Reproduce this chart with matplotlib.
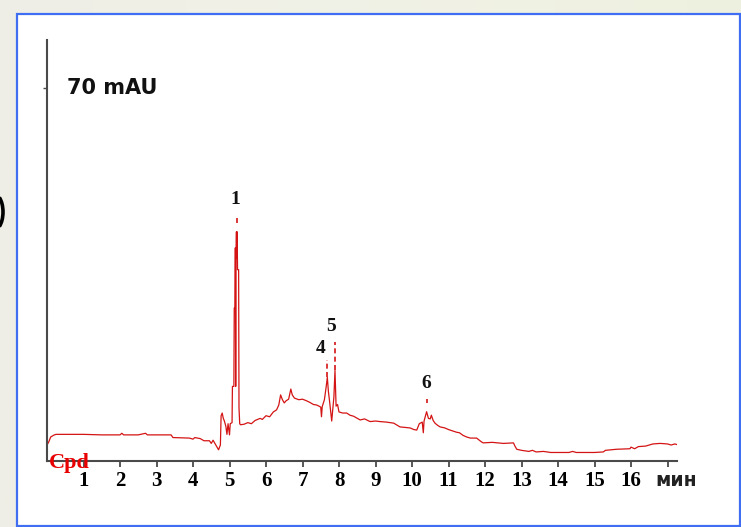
import matplotlib
matplotlib.use("Agg")
import matplotlib.pyplot as plt
import numpy as np
from matplotlib.patches import Rectangle, Arc
from matplotlib.colors import LinearSegmentedColormap

# ---- data (time in min, absorbance in mAU) ----
time_min = [0.00, 0.05, 0.10, 0.20, 0.25, 1.00, 1.50, 2.00, 2.05, 2.10, 2.50, 2.70, 2.75,
            3.40, 3.45, 3.90, 4.00, 4.05, 4.20, 4.30, 4.45, 4.50, 4.55, 4.60, 4.70, 4.75,
            4.77, 4.80, 4.83, 4.86, 4.90, 4.93, 4.96, 5.00, 5.02, 5.07, 5.08, 5.12, 5.13,
            5.15, 5.16, 5.17, 5.18, 5.19, 5.20, 5.21, 5.22, 5.25, 5.26, 5.28, 5.30, 5.40,
            5.50, 5.60, 5.70, 5.84, 5.90, 6.00, 6.10, 6.20, 6.29, 6.35, 6.40, 6.45, 6.50,
            6.55, 6.62, 6.68, 6.72, 6.78, 6.90, 7.00, 7.11, 7.20, 7.30, 7.39, 7.45, 7.50,
            7.52, 7.54, 7.60, 7.65, 7.68, 7.71, 7.74, 7.77, 7.80, 7.83, 7.86, 7.89, 7.92,
            7.96, 8.00, 8.10, 8.21, 8.30, 8.40, 8.50, 8.58, 8.70, 8.85, 9.00, 9.12, 9.30,
            9.50, 9.60, 9.67, 9.80, 9.95, 10.05, 10.13, 10.20, 10.28, 10.31, 10.33, 10.40,
            10.45, 10.50, 10.53, 10.58, 10.63, 10.70, 10.77, 10.90, 11.00, 11.22, 11.30,
            11.40, 11.50, 11.60, 11.77, 11.90, 11.95, 12.20, 12.50, 12.78, 12.82, 12.87,
            13.00, 13.20, 13.30, 13.40, 13.60, 13.80, 14.30, 14.40, 14.50, 15.00, 15.24,
            15.30, 15.60, 15.97, 16.00, 16.10, 16.20, 16.40, 16.60, 16.80, 17.00, 17.10,
            17.20, 17.25]
signal_mau = [3.0, 3.6, 4.5, 4.9, 5.0, 5.0, 4.9, 4.9, 5.2, 4.9, 4.9, 5.2, 4.9,
              4.9, 4.4, 4.3, 4.1, 4.4, 4.2, 3.8, 3.8, 3.3, 3.9, 3.3, 2.1, 3.0,
              8.5, 9.0, 8.0, 7.5, 6.5, 5.0, 7.0, 4.9, 7.0, 7.2, 14.0, 14.0, 28.7,
              28.7, 40.0, 14.0, 40.0, 43.0, 38.0, 43.0, 35.9, 35.9, 10.0, 7.0, 6.8, 6.9,
              7.2, 7.0, 7.6, 8.0, 7.8, 8.5, 8.3, 9.2, 9.6, 10.5, 12.4, 11.5, 10.9,
              11.3, 11.6, 13.5, 12.4, 11.8, 11.5, 11.6, 11.3, 11.0, 10.6, 10.5, 10.3, 10.1,
              8.3, 10.2, 11.5, 14.0, 15.7, 13.0, 11.3, 9.4, 7.5, 9.8, 12.0, 17.0, 10.3,
              10.6, 9.2, 9.0, 9.0, 8.6, 8.4, 8.0, 7.7, 7.9, 7.4, 7.5, 7.4, 7.3,
              7.1, 6.7, 6.4, 6.3, 6.2, 5.9, 5.8, 7.0, 7.3, 5.3, 7.5, 9.25,
              8.0, 7.9, 8.6, 7.6, 7.1, 6.7, 6.4, 6.2, 5.9, 5.4, 5.3,
              4.8, 4.5, 4.3, 4.3, 3.6, 3.4, 3.5, 3.3, 3.4, 2.8, 2.2,
              2.0, 1.8, 2.0, 1.7, 1.8, 1.6, 1.6, 1.8, 1.6, 1.6, 1.7,
              2.0, 2.2, 2.3, 2.6, 2.3, 2.7, 2.8, 3.2, 3.3, 3.2, 3.0,
              3.2, 3.1]

x_ticks = list(range(1, 18))
x_tick_labels = [str(i) for i in range(1, 17)] + [""]
y_tick = [70]

peak_labels = ["1", "4", "5", "6"]
peak_label_t = [5.15, 7.50, 7.78, 10.38]
peak_label_v = [49.0, 21.2, 25.3, 14.6]
marker_t = [5.21, 7.68, 7.89, 10.40]
marker_lo = [44.7, 15.7, 17.0, 10.9]
marker_hi = [45.8, 19.0, 22.3, 11.6]

# ---- figure ----
W, H = 741, 527
fig = plt.figure(figsize=(W / 100, H / 100), dpi=100)

# slide background gradient
bg = fig.add_axes([0, 0, 1, 1], zorder=-10)
grad = np.linspace(0, 1, 256)[None, :]
cmap = LinearSegmentedColormap.from_list("bg", ["#efeee6", "#f1f2e6", "#eef0df"])
bg.imshow(grad, aspect="auto", cmap=cmap, extent=[0, W, 0, H])
bg.set_xlim(0, W)
bg.set_ylim(0, H)
bg.set_axis_off()
# cut-off stroke of a slide glyph at the left edge
bg.add_patch(Arc((-6, H - 212), 18, 36, theta1=-70, theta2=70, color="black",
                 linewidth=2.6))

# white panel with blue border
fig.patches.append(Rectangle((17 / W, 1 / H), 723 / W, 512 / H, transform=fig.transFigure,
                             facecolor="white", edgecolor="#3f6ef2", linewidth=1.6,
                             zorder=-5))

ax = fig.add_axes([47 / W, (H - 461) / H, (677 - 47) / W, (461 - 40) / H])
ax.patch.set_alpha(0)
ax.plot(time_min, signal_mau, color="#d41414", linewidth=0.9)

ax.set_xlim(0, 17.26)
ax.set_ylim(0, 79)
for s in ["top", "right"]:
    ax.spines[s].set_visible(False)
for s in ["left", "bottom"]:
    ax.spines[s].set_color("#4a4a4a")
    ax.spines[s].set_linewidth(1.5)

ax.set_xticks(x_ticks)
ax.set_xticklabels(x_tick_labels, fontfamily="Liberation Serif", fontweight="bold",
                   fontsize=15)
ax.tick_params(axis="x", direction="out", length=4.5, width=1.3, color="#4a4a4a",
               pad=2.5)
ax.set_yticks(y_tick)
ax.set_yticklabels([""])
ax.tick_params(axis="y", direction="out", length=3, width=1.0, color="#4a4a4a")

ax.text(0.55, 70, "70 mAU", fontfamily="DejaVu Sans", fontweight="bold", fontsize=15,
        color="#111111", ha="left", va="center")
ax.text(17.25, -3.75, "мин", fontfamily="DejaVu Sans", fontweight="bold", fontsize=13.5,
        color="#222222", ha="center", va="center", clip_on=False)
ax.text(0.05, -0.3, "Cpd", fontfamily="Liberation Serif", fontweight="bold", fontsize=16,
        color="#e80000", ha="left", va="center", clip_on=False, zorder=10)

for lab, t, v in zip(peak_labels, peak_label_t, peak_label_v):
    ax.text(t, v, lab, fontfamily="Liberation Serif", fontweight="bold", fontsize=14,
            color="#111111", ha="center", va="center")
ax.vlines(marker_t, marker_lo, marker_hi, colors="#d41414", linewidth=1.2,
          linestyles=(0, (3, 2)))

fig.savefig("out.png", dpi=100)
